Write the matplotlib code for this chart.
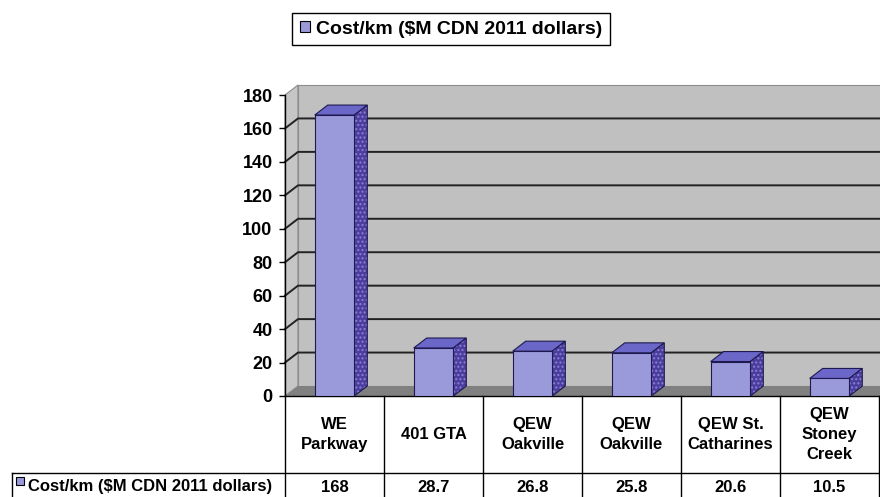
import matplotlib
matplotlib.use("Agg")
import matplotlib.pyplot as plt
from matplotlib.patches import Polygon, Rectangle, Patch

# data
categories = ["WE\nParkway", "401 GTA", "QEW\nOakville", "QEW\nOakville",
              "QEW St.\nCatharines", "QEW\nStoney\nCreek"]
values = [168, 28.7, 26.8, 25.8, 20.6, 10.5]
value_labels = ["168", "28.7", "26.8", "25.8", "20.6", "10.5"]
series_name = "Cost/km ($M CDN 2011 dollars)"
yticks = [0, 20, 40, 60, 80, 100, 120, 140, 160, 180]

# colours
front_c = "#9a9ada"
top_c = "#6b67c9"
side_c = "#4b3d9e"
wall_c = "#c0c0c0"
side_wall_c = "#c6c6c6"
floor_c = "#808080"

plt.rcParams["font.family"] = ["Liberation Sans", "DejaVu Sans"]
plt.rcParams["font.weight"] = "bold"

W, H = 880, 497
fig = plt.figure(figsize=(W / 100, H / 100), dpi=100)

# front plane of the plot area, in pixels
left, right, top, bottom = 285, 879, 95, 396
ax = fig.add_axes([left / W, 1 - bottom / H, (right - left) / W, (bottom - top) / H])
n = len(values)
ax.set_xlim(-0.5, n - 0.5)
ax.set_ylim(0, 180)
ax.patch.set_visible(False)
for s in ["top", "right", "bottom"]:
    ax.spines[s].set_visible(False)
ax.spines["left"].set_linewidth(1.0)
ax.set_xticks([])
ax.set_yticks(yticks)
ax.tick_params(axis="y", direction="out", length=4, width=1, pad=5, labelsize=13)

# 3d depth offset converted to data units
dx = 13 / ((right - left) / n)
dy = 10 / ((bottom - top) / 180)

# walls and floor
ax.add_patch(Polygon([(-0.5, 0), (-0.5, 180), (-0.5 + dx, 180 + dy), (-0.5 + dx, dy)],
                     facecolor=side_wall_c, edgecolor="#8c8c8c", lw=0.8, clip_on=False, zorder=0))
ax.add_patch(Rectangle((-0.5 + dx, dy), n + 1, 180, facecolor=wall_c,
                       edgecolor="#8c8c8c", lw=0.8, clip_on=False, zorder=0))
for v in yticks[1:-1]:
    ax.plot([-0.5, -0.5 + dx, n + 1], [v, v + dy, v + dy], color="#222222",
            lw=1.4, clip_on=False, zorder=1)
ax.add_patch(Polygon([(-0.5, 0), (n + 1, 0), (n + 1 + dx, dy), (-0.5 + dx, dy)],
                     facecolor=floor_c, edgecolor="none", clip_on=False, zorder=1.5))

# bars
w = 0.4
x = list(range(n))
ax.bar(x, values, width=w, color=front_c, edgecolor="#1e1a50", linewidth=0.8, zorder=4)
for i, v in zip(x, values):
    xl, xr = i - w / 2, i + w / 2
    ax.add_patch(Polygon([(xl, v), (xr, v), (xr + dx, v + dy), (xl + dx, v + dy)],
                         facecolor=top_c, edgecolor="#1e1a50", lw=0.8, zorder=3, clip_on=False))
    side = [(xr, 0), (xr + dx, dy), (xr + dx, v + dy), (xr, v)]
    ax.add_patch(Polygon(side, facecolor=side_c, edgecolor="#8a80d0", lw=0,
                         hatch="....", zorder=3, clip_on=False))
    ax.add_patch(Polygon(side, fill=False, edgecolor="#1e1a50", lw=0.8, zorder=3.1, clip_on=False))


# data table below the plot
def ya(py):
    return (bottom - py) / (bottom - top)


def xa(px):
    return (px - left) / (right - left)


xt = ax.get_xaxis_transform()
row1_bot, row2_bot = 473, 505
ax.plot([-0.5, n - 0.5], [0, 0], color="black", lw=1, transform=xt, clip_on=False)
for i in range(n + 1):
    ax.plot([i - 0.5, i - 0.5], [0, ya(row2_bot)], color="black", lw=1,
            transform=xt, clip_on=False)
ax.plot([xa(12), 1], [ya(row1_bot), ya(row1_bot)], color="black", lw=1,
        transform=ax.transAxes, clip_on=False)
ax.plot([xa(12), xa(12)], [ya(row1_bot), ya(row2_bot)], color="black", lw=1,
        transform=ax.transAxes, clip_on=False)

for i, (c, lab) in enumerate(zip(categories, value_labels)):
    ax.text(i, ya(434.5), c, transform=xt, ha="center", va="center",
            fontsize=12, linespacing=1.45)
    ax.text(i, ya(487), lab, transform=xt, ha="center", va="center", fontsize=12)

ax.add_patch(Rectangle((xa(16), ya(485)), xa(24) - xa(16), ya(477) - ya(485),
                       facecolor=front_c, edgecolor="black", lw=0.8,
                       transform=ax.transAxes, clip_on=False))
ax.text(xa(28), ya(487), series_name, transform=ax.transAxes, ha="left",
        va="center", fontsize=12)

# legend on top
leg = fig.legend(handles=[Patch(facecolor=front_c, edgecolor="black", lw=0.8)],
                 labels=[series_name], loc="center",
                 bbox_to_anchor=(451 / W, 1 - 29 / H), fontsize=14,
                 frameon=True, fancybox=False, edgecolor="black", framealpha=1,
                 handlelength=0.55, handleheight=0.55, handletextpad=0.3,
                 borderpad=0.4)
leg.get_frame().set_linewidth(1.0)

fig.savefig("out.png", dpi=100)
